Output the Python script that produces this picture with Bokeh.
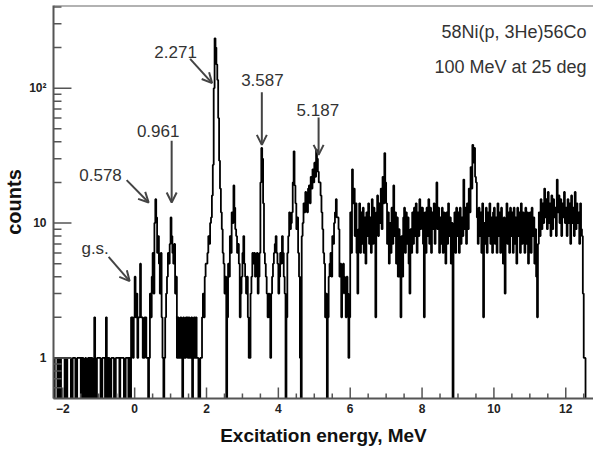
import numpy as np
from bokeh.plotting import figure
from bokeh.models import (FixedTicker, Arrow, OpenHead, Span, ColumnDataSource)
from bokeh.core.properties import value
from bokeh.embed import file_html
from bokeh.resources import INLINE

# ---------------- data ----------------
E_START = -2.30      # MeV, left edge of first bin
BIN_WIDTH = 0.025    # MeV

counts = [
    # -2.30 .. -2.00
    1, 1, 0, 1, 1, 1, 0, 1, 1, 0, 1, 1,
    # -2.00 .. -1.00
    1, 1, 0, 1, 0, 1, 1, 1, 1, 0, 0, 1, 1, 1, 0, 0, 1, 1, 1, 1,
    0, 1, 1, 0, 0, 1, 0, 0, 1, 1, 0, 1, 1, 0, 0, 2, 0, 0, 1, 1,
    # -1.00 .. 0.00
    1, 1, 0, 0, 1, 1, 1, 0, 2, 0, 1, 1, 0, 0, 1, 1, 1, 0, 0, 1,
    1, 1, 1, 0, 1, 1, 1, 1, 0, 0, 1, 1, 1, 0, 1, 0, 2, 2, 1, 2,
    # 0.00 .. 1.00
    4, 2, 3, 1, 2, 2, 5, 2, 2, 1, 1, 2, 2, 1, 1, 0, 1, 3, 2, 4,
    6, 3, 10, 15, 11, 6, 8, 5, 3, 6, 2, 1, 0, 1, 2, 3, 4, 6, 5, 7,
    # 1.00 .. 2.00
    11, 8, 6, 5, 7, 3, 4, 1, 2, 1, 1, 2, 1, 0, 2, 1, 1, 2, 2, 1,
    2, 1, 1, 2, 0, 1, 2, 1, 2, 1, 1, 0, 0, 1, 1, 2, 3, 2, 4, 5,
    # 2.00 .. 3.00
    5, 6, 8, 7, 10, 11, 16, 27, 100, 234, 200, 150, 115, 60, 29, 18, 12, 9, 6, 5,
    3, 4, 0, 2, 5, 4, 8, 6, 12, 10, 19, 13, 9, 8, 6, 7, 5, 2, 3, 4,
    # 3.00 .. 4.00
    6, 8, 5, 4, 3, 4, 2, 1, 1, 3, 4, 6, 5, 6, 4, 5, 6, 3, 4, 6,
    20, 36, 30, 14, 6, 5, 4, 3, 2, 3, 2, 1, 3, 4, 5, 6, 7, 8, 6, 5,
    # 4.00 .. 5.00
    3, 4, 6, 5, 8, 6, 4, 3, 0, 2, 6, 8, 12, 9, 10, 12, 20, 34, 19, 14,
    9, 11, 6, 4, 1, 0, 8, 10, 14, 12, 17, 15, 12, 18, 19, 14, 22, 18, 25, 20,
    # 5.00 .. 6.00
    28, 22, 35, 30, 24, 20, 20, 16, 12, 9, 6, 5, 2, 3, 0, 2, 4, 5, 6, 4,
    8, 7, 10, 12, 15, 11, 11, 9, 4, 5, 2, 3, 5, 4, 3, 2, 4, 3, 1, 2,
    # 6.00 .. 7.00
    12, 6, 25, 14, 18, 8, 14, 6, 3, 9, 14, 6, 12, 7, 13, 6, 11, 5, 12, 8,
    14, 7, 11, 6, 15, 7, 13, 9, 2, 12, 16, 8, 14, 10, 18, 9, 22, 14, 33, 20,
    # 7.00 .. 8.00
    14, 7, 12, 5, 10, 6, 13, 7, 19, 8, 12, 5, 11, 4, 9, 4, 2, 8, 4, 11,
    13, 6, 12, 7, 11, 5, 3, 9, 6, 12, 7, 13, 8, 14, 6, 12, 8, 15, 9, 13,
    # 8.00 .. 9.00
    13, 7, 2, 12, 6, 13, 8, 15, 7, 13, 6, 12, 9, 14, 7, 12, 20, 9, 13, 6,
    11, 7, 13, 6, 12, 7, 5, 12, 7, 14, 8, 11, 5, 10, 0, 7, 12, 6, 13, 8,
    # 9.00 .. 10.00
    12, 6, 13, 7, 11, 8, 21, 9, 13, 7, 14, 9, 18, 12, 26, 18, 38, 28, 36, 22,
    20, 11, 7, 13, 8, 12, 6, 14, 2, 10, 7, 13, 6, 12, 8, 14, 7, 11, 6, 12,
    # 10.00 .. 11.00
    13, 7, 11, 6, 14, 8, 12, 6, 13, 7, 5, 11, 3, 9, 14, 7, 12, 6, 13, 8,
    12, 6, 13, 7, 11, 5, 13, 8, 12, 6, 14, 7, 12, 9, 6, 13, 7, 12, 5, 11,
    # 11.00 .. 12.00
    12, 6, 13, 8, 11, 5, 9, 4, 2, 7, 12, 8, 15, 9, 14, 10, 18, 11, 15, 9,
    17, 10, 14, 8, 16, 9, 15, 11, 13, 8, 21, 12, 16, 10, 15, 8, 14, 11, 17, 10,
    # 12.00 .. 12.60
    13, 8, 15, 10, 14, 7, 16, 10, 13, 8, 17, 9, 14, 10, 12, 7, 14, 9, 8, 3,
    1, 1, 0, 0,
]

y_tick_values = [1, 10, 100]
y_tick_labels = ["1", "10", "10\u00b2"]
x_tick_values = [-2, 0, 2, 4, 6, 8, 10, 12]

title_lines = ["58Ni(p, 3He)56Co", "100 MeV at 25 deg"]
peak_labels = ["g.s.", "0.578", "0.961", "2.271", "3.587", "5.187"]

# annotation layout (positions in data units)
title_x = [12.58, 12.58]
title_y = [262.6, 143.7]
label_x = [-1.10, -0.95, 0.655, 1.14, 3.556, 5.10]
label_y = [6.44, 22.7, 48.5, 186.0, 114.8, 68.4]
arrow_x0 = [-0.725, -0.223, 1.03, 1.544, 3.54, 5.12]
arrow_y0 = [5.61, 20.8, 40.8, 164.9, 93.3, 60.6]
arrow_x1 = [-0.14, 0.39, 1.03, 2.156, 3.54, 5.12]
arrow_y1 = [3.71, 14.2, 14.2, 109.0, 38.0, 32.0]

# ---------------- figure ----------------
FONT = "Liberation Sans"
AXIS_COLOR = "#555555"
TEXT_COLOR = "#333333"

X0, X1 = -2.259, 12.772
Y0, Y1 = 0.5, 410.0
PX_PER_MEV = 541 / (X1 - X0)
PX_PER_DEC = 393 / np.log10(Y1 / Y0)

p = figure(width=593, height=450,
           x_range=(X0, X1), y_range=(Y0, Y1),
           y_axis_type="log",
           output_backend="svg", toolbar_location=None,
           min_border_left=52, min_border_right=0,
           min_border_top=5, min_border_bottom=52)

p.background_fill_color = "white"
p.border_fill_color = "white"
p.outline_line_color = None
p.grid.visible = False

# histogram as steps
edges = E_START + BIN_WIDTH * np.arange(len(counts) + 1)
y_plot = [c if c > 0 else 0.1 for c in counts]
y_plot = y_plot + [y_plot[-1]]
src = ColumnDataSource(dict(x=edges, y=y_plot))
p.step(x="x", y="y", source=src, mode="after",
       line_color="#000000", line_width=1.8)

# top frame line
p.add_layout(Span(location=Y1, dimension="width",
                  line_color="#666666", line_width=2))

# inward tick marks drawn as segments
def ytick_len(px):
    return px / PX_PER_MEV

def xtick_top(px):
    return Y0 * 10 ** (px / PX_PER_DEC)

y_minor = [m * 10 ** k for k in (-1, 0, 1, 2) for m in range(2, 10)
           if Y0 < m * 10 ** k < Y1]
x_minor = [v for v in np.arange(-2.0, 12.51, 0.5) if v not in x_tick_values]

p.segment(x0=[X0] * len(y_tick_values), x1=[X0 + ytick_len(18)] * len(y_tick_values),
          y0=y_tick_values, y1=y_tick_values, line_color=AXIS_COLOR, line_width=1.5)
p.segment(x0=[X0] * len(y_minor), x1=[X0 + ytick_len(8)] * len(y_minor),
          y0=y_minor, y1=y_minor, line_color=AXIS_COLOR, line_width=1.5)
p.segment(x0=x_tick_values, x1=x_tick_values,
          y0=[Y0] * len(x_tick_values), y1=[xtick_top(11)] * len(x_tick_values),
          line_color=AXIS_COLOR, line_width=1.5)
p.segment(x0=x_minor, x1=x_minor,
          y0=[Y0] * len(x_minor), y1=[xtick_top(5)] * len(x_minor),
          line_color=AXIS_COLOR, line_width=1.5)

# x axis
xa = p.xaxis[0]
xa.ticker = FixedTicker(ticks=x_tick_values)
xa.axis_line_color = AXIS_COLOR
xa.axis_line_width = 2
xa.major_tick_line_color = None
xa.minor_tick_line_color = None
xa.major_tick_out = 0
xa.minor_tick_out = 0
xa.major_label_text_font = FONT
xa.major_label_text_font_style = "bold"
xa.major_label_text_font_size = "12px"
xa.major_label_text_color = "#222222"
xa.major_label_standoff = 5
xa.axis_label = "Excitation energy, MeV"
xa.axis_label_text_font = FONT
xa.axis_label_text_font_style = "bold"
xa.axis_label_text_font_size = "19px"
xa.axis_label_text_color = "#111111"
xa.axis_label_standoff = 9

# y axis
ya = p.yaxis[0]
ya.ticker = FixedTicker(ticks=y_tick_values)
ya.major_label_overrides = {v: s for v, s in zip(y_tick_values, y_tick_labels)}
ya.axis_line_color = AXIS_COLOR
ya.axis_line_width = 2
ya.major_tick_line_color = None
ya.minor_tick_line_color = None
ya.major_tick_out = 0
ya.minor_tick_out = 0
ya.major_label_text_font = FONT
ya.major_label_text_font_style = "bold"
ya.major_label_text_font_size = "12px"
ya.major_label_text_color = "#222222"
ya.major_label_standoff = 7
ya.axis_label = "counts"
ya.axis_label_text_font = FONT
ya.axis_label_text_font_style = "bold"
ya.axis_label_text_font_size = "20px"
ya.axis_label_text_color = "#111111"
ya.axis_label_standoff = 1

# title lines
p.text(x=title_x, y=title_y, text=title_lines,
       text_font=value(FONT), text_font_size="18px",
       text_color=TEXT_COLOR, text_align="right", text_baseline="alphabetic")

# peak labels
p.text(x=label_x, y=label_y, text=peak_labels,
       text_font=value(FONT), text_font_size="17px",
       text_color=TEXT_COLOR, text_align="center", text_baseline="alphabetic")

# arrows
for x0, y0, x1, y1 in zip(arrow_x0, arrow_y0, arrow_x1, arrow_y1):
    p.add_layout(Arrow(end=OpenHead(size=10, line_color="#444444", line_width=2),
                       x_start=x0, y_start=y0, x_end=x1, y_end=y1,
                       line_color="#444444", line_width=2))

open("out.html", "w").write(file_html(p, INLINE))
